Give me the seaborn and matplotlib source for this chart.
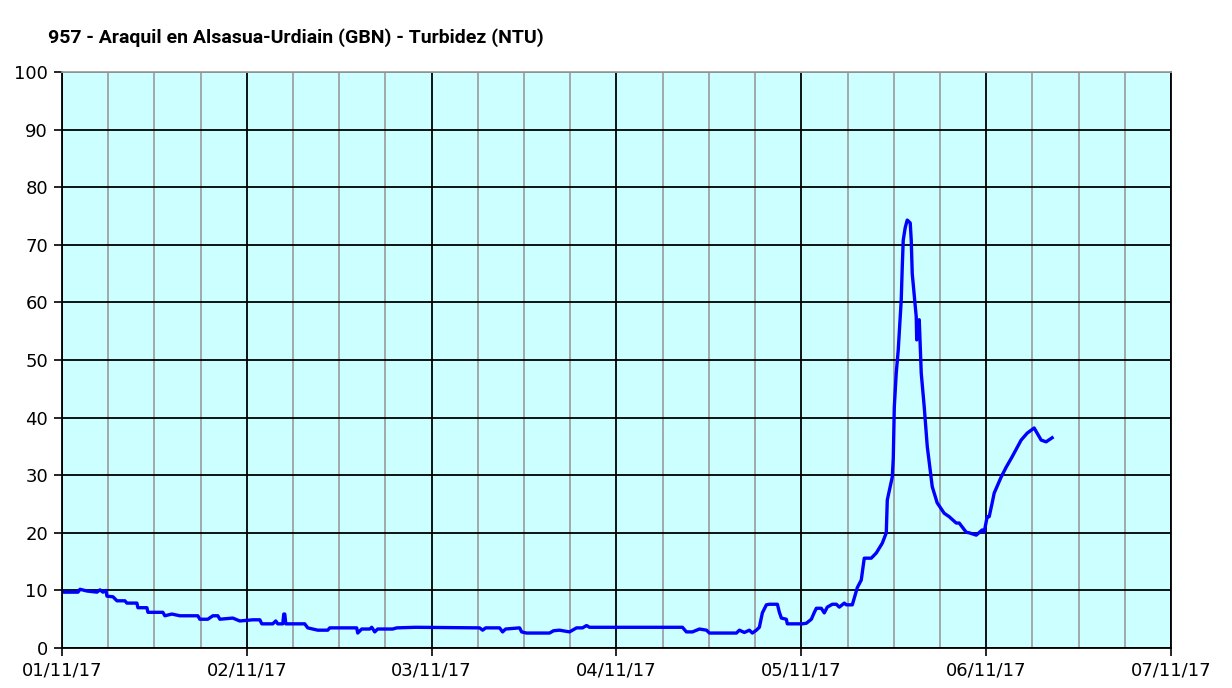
import matplotlib
matplotlib.use("Agg")
import matplotlib.pyplot as plt
import matplotlib.dates as mdates
import pandas as pd
import seaborn as sns

# hours since 01/11/17 00:00 and turbidity (NTU)
hours = [0.0, 2.08, 2.34, 3.24, 4.54, 4.93, 5.32, 5.71, 5.84, 6.62, 7.14, 8.17, 8.43,
         9.73, 9.86, 11.03, 11.16, 13.10, 13.36, 14.27, 15.31, 17.64, 17.90, 18.94,
         19.59, 20.24, 20.50, 22.18, 23.09, 24.78, 25.69, 25.95, 27.37, 27.76, 28.02,
         28.67, 28.80, 28.93, 29.06, 31.52, 31.91, 33.21, 34.51, 34.77, 38.27, 38.40,
         38.92, 39.96, 40.22, 40.61, 40.99, 42.94, 43.46, 45.92, 54.23, 54.62, 55.01,
         56.82, 57.21, 57.60, 59.42, 59.68, 60.32, 63.30, 63.83, 64.60, 65.90, 66.81,
         67.59, 68.11, 68.50, 80.56, 81.08, 81.86, 82.77, 83.68, 84.07, 87.57, 87.96,
         88.60, 89.25, 89.64, 90.16, 90.55, 90.94, 91.46, 91.85, 92.89, 93.15, 93.41,
         94.05, 94.18, 96.13, 96.65, 97.30, 97.69, 97.95, 98.59, 98.98, 99.37, 100.02,
         100.54, 100.93, 101.58, 101.84, 102.62, 102.88, 103.27, 103.78, 104.17,
         105.08, 105.73, 106.51, 107.03, 107.16, 107.81, 107.94, 108.07, 108.32,
         108.58, 108.97, 109.10, 109.23, 109.49, 109.75, 110.14, 110.27, 110.40,
         110.92, 110.98, 111.18, 111.31, 111.57, 111.96, 112.35, 113.00, 113.64,
         114.55, 115.20, 116.11, 116.50, 117.41, 117.80, 118.71, 119.48, 119.74,
         120.13, 120.39, 120.78, 121.04, 121.95, 122.60, 123.37, 124.54, 125.32,
         126.23, 126.62, 127.14, 127.78, 128.56]
ntu = [9.7, 9.7, 10.2, 9.9, 9.7, 10.1, 9.7, 10.0, 9.0, 8.9, 8.2, 8.2, 7.8,
       7.8, 7.0, 7.0, 6.2, 6.2, 5.6, 5.9, 5.6, 5.6, 5.0, 5.0,
       5.6, 5.6, 5.0, 5.2, 4.7, 4.9, 4.9, 4.2, 4.2, 4.7, 4.2,
       4.2, 5.9, 5.9, 4.2, 4.2, 3.5, 3.1, 3.1, 3.5, 3.5, 2.6,
       3.3, 3.3, 3.6, 2.8, 3.3, 3.3, 3.5, 3.6, 3.5, 3.1, 3.5,
       3.5, 2.8, 3.3, 3.5, 2.8, 2.6, 2.6, 3.0, 3.1, 2.8, 3.5,
       3.5, 3.9, 3.6, 3.6, 2.8, 2.8, 3.3, 3.1, 2.6, 2.6, 3.1,
       2.7, 3.1, 2.6, 3.1, 3.6, 6.1, 7.5, 7.6, 7.6, 6.2, 5.2,
       5.0, 4.2, 4.2, 4.3, 5.0, 6.2, 6.9, 6.9, 6.1, 7.1, 7.6,
       7.6, 7.1, 7.8, 7.5, 7.5, 8.7, 10.5, 11.8, 15.6,
       15.6, 16.5, 18.2, 20.0, 25.7, 29.7, 33.0, 41.8, 47.7,
       51.7, 60.4, 66.0, 70.8, 73.0, 74.3, 73.8, 70.8, 65.0,
       57.5, 53.5, 56.5, 57.0, 47.7, 41.8, 35.0, 28.0, 25.2,
       23.4, 22.8, 21.7, 21.7, 20.1, 20.0, 19.6, 20.5, 20.1,
       22.8, 22.8, 25.2, 26.9, 29.7, 31.4, 33.2, 36.1, 37.3,
       38.2, 37.3, 36.1, 35.8, 36.5]

start = pd.Timestamp("2017-11-01")
df = pd.DataFrame({"fecha": start + pd.to_timedelta(hours, unit="h"), "ntu": ntu})

fig = plt.figure(figsize=(12.32, 6.88), dpi=100)
ax = fig.add_axes([0.0503, 0.0581, 0.9002, 0.8372])
ax.set_facecolor("#CCFFFF")

sns.lineplot(data=df, x="fecha", y="ntu", ax=ax, color="#0000FF", linewidth=2.4, sort=False)

ax.set_xlim(start, start + pd.Timedelta(days=6))
ax.set_ylim(0, 100)
ax.set_yticks(range(0, 101, 10))

ax.xaxis.set_major_locator(mdates.DayLocator())
ax.xaxis.set_major_formatter(mdates.DateFormatter("%d/%m/%y"))
ax.xaxis.set_minor_locator(mdates.HourLocator(byhour=[6, 12, 18]))

ax.grid(True, which="major", axis="both", color="black", linewidth=1.3)
ax.grid(True, which="minor", axis="x", color="#A0A0A0", linewidth=1.3)
ax.set_axisbelow(True)

ax.tick_params(which="major", length=6, width=1.2, color="black", labelsize=13, pad=4)
ax.tick_params(which="minor", length=0)

for side in ["left", "bottom", "right"]:
    ax.spines[side].set_color("black")
    ax.spines[side].set_linewidth(1.3)
ax.spines["top"].set_color("#A0A0A0")
ax.spines["top"].set_linewidth(1.3)

ax.set_xlabel("")
ax.set_ylabel("")

fig.text(0.039, 0.946, "957 - Araquil en Alsasua-Urdiain (GBN) - Turbidez (NTU)",
         fontsize=14, fontweight="bold", family=["Roboto", "DejaVu Sans"],
         va="center", ha="left")

fig.savefig("out.png", dpi=100, facecolor="white")
